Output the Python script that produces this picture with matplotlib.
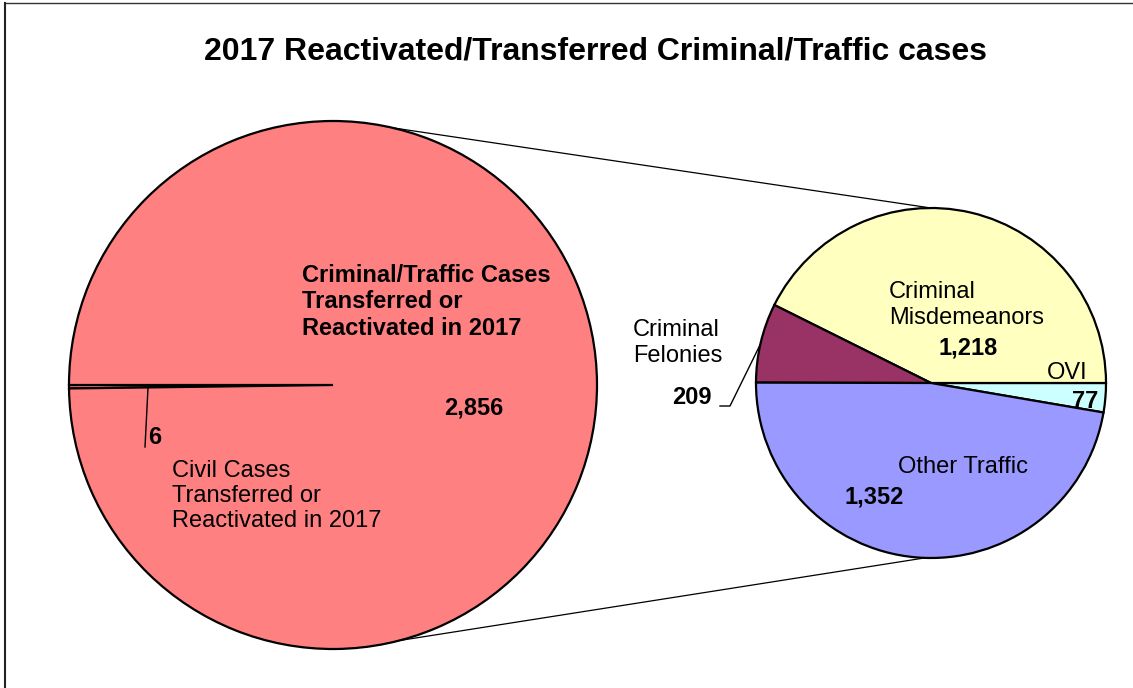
import numpy as np
import matplotlib
matplotlib.use("Agg")
import matplotlib.pyplot as plt
from matplotlib.lines import Line2D

plt.rcParams["font.family"] = ["Liberation Sans", "DejaVu Sans"]

# ---------------------------------------------
# Data
# ---------------------------------------------
title = "2017 Reactivated/Transferred Criminal/Traffic cases"

main_labels = ["Civil Cases\nTransferred or\nReactivated in 2017",
               "Criminal/Traffic Cases\nTransferred or\nReactivated in 2017"]
main_values = [6, 2856]
main_colors = ["#FF8080", "#FF8080"]

sub_labels = ["OVI", "Criminal\nMisdemeanors", "Criminal\nFelonies", "Other Traffic"]
sub_values = [77, 1218, 209, 1352]
sub_colors = ["#CCFFFF", "#FFFFC0", "#993366", "#9999FF"]

# ---------------------------------------------
# Layout (pixel space, y up)
# ---------------------------------------------
W, H = 1133, 688
fig = plt.figure(figsize=(W / 100, H / 100), dpi=100)
ax = fig.add_axes([0, 0, 1, 1])

def py(y):
    return H - y

main_c = (333, py(385))
main_r = 264
sub_c = (931, py(383))
sub_r = 175

ax.pie(main_values, colors=main_colors, startangle=180, center=main_c,
       radius=main_r, counterclock=True,
       wedgeprops=dict(edgecolor="black", linewidth=1.6))

sub_start = -sub_values[0] / sum(sub_values) * 360
ax.pie(sub_values, colors=sub_colors, startangle=sub_start, center=sub_c,
       radius=sub_r, counterclock=True,
       wedgeprops=dict(edgecolor="black", linewidth=1.6))

# connector lines between the pies
def edge(c, r, ang):
    a = np.deg2rad(ang)
    return c[0] + r * np.cos(a), c[1] + r * np.sin(a)

for a_main, a_sub in [(77, 90), (-75.5, -92)]:
    p1 = edge(main_c, main_r, a_main)
    p2 = edge(sub_c, sub_r, a_sub)
    ax.plot([p1[0], p2[0]], [p1[1], p2[1]], color="black", lw=0.9, zorder=0)

ax.set_xlim(0, W)
ax.set_ylim(0, H)
ax.set_aspect("equal")
ax.axis("off")

fs = 17

# title
ax.text(596, py(52), title, ha="center", va="center", fontsize=23,
        fontweight="bold")

# main pie labels
ax.text(302, py(302), main_labels[1], ha="left", va="center", fontsize=fs,
        fontweight="bold", linespacing=1.2)
ax.text(474, py(408), f"{main_values[1]:,}", ha="center", va="center",
        fontsize=fs, fontweight="bold")
ax.text(148, py(438), f"{main_values[0]:,}", ha="left", va="center",
        fontsize=fs, fontweight="bold")
ax.plot([148, 145], [py(388), py(447)], color="black", lw=1)
ax.text(172, py(496), main_labels[0], ha="left", va="center", fontsize=fs,
        linespacing=1.2)

# sub pie labels
ax.text(1067, py(373), sub_labels[0], ha="center", va="center", fontsize=fs)
ax.text(1085, py(402), f"{sub_values[0]:,}", ha="center", va="center",
        fontsize=fs, fontweight="bold")
ax.text(889, py(305), sub_labels[1], ha="left", va="center", fontsize=fs,
        linespacing=1.2)
ax.text(968, py(348), f"{sub_values[1]:,}", ha="center", va="center",
        fontsize=fs, fontweight="bold")
ax.text(633, py(343), sub_labels[2], ha="left", va="center", fontsize=fs,
        linespacing=1.2)
ax.text(712, py(398), f"{sub_values[2]:,}", ha="right", va="center",
        fontsize=fs, fontweight="bold")
ax.plot([720, 730, 760], [py(406), py(406), py(345)], color="black", lw=1)
ax.text(963, py(467), sub_labels[3], ha="center", va="center", fontsize=fs)
ax.text(874, py(497), f"{sub_values[3]:,}", ha="center", va="center",
        fontsize=fs, fontweight="bold")

# chart border (top and left edges visible)
fig.add_artist(Line2D([5 / W, 1], [1 - 3 / H, 1 - 3 / H], color="#333333", lw=1))
fig.add_artist(Line2D([5 / W, 5 / W], [0, 1 - 3 / H], color="#222222", lw=1.5))

fig.savefig("out.png", dpi=100)
